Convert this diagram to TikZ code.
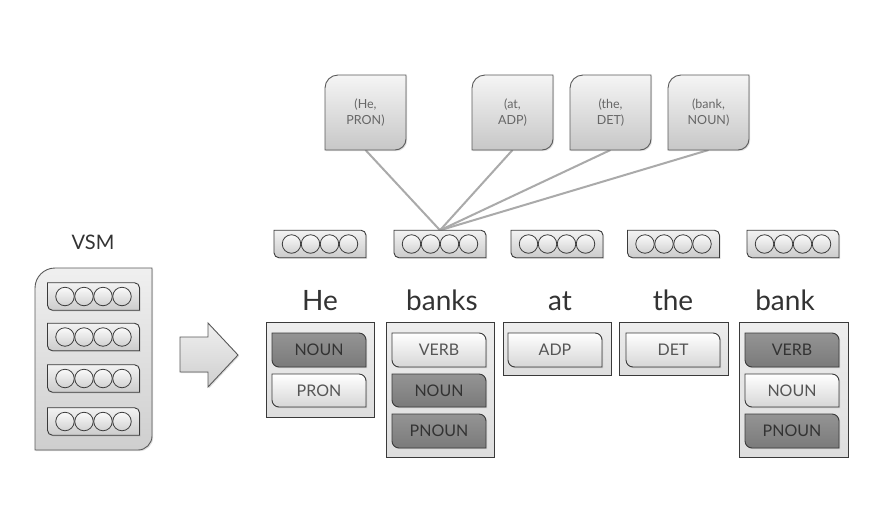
\documentclass[tikz,border=0pt]{standalone}
\usepackage{fontspec}
\setmainfont{Lato}
\usetikzlibrary{shadows}
\pgfdeclarelayer{bg}\pgfdeclarelayer{lines}\pgfdeclarelayer{back}\pgfdeclarelayer{mid}
\pgfsetlayers{bg,lines,back,mid,main}
\definecolor{edge}{HTML}{3A3A3A}
\definecolor{txt}{HTML}{333333}
\definecolor{tagtxt}{HTML}{555555}
\definecolor{darktxt}{HTML}{333333}
\definecolor{tuptxt}{HTML}{666666}
\definecolor{conn}{HTML}{AAAAAA}
\tikzset{
  base/.style={inner sep=0pt, outer sep=0pt, rectangle},
  shad/.style={drop shadow={shadow xshift=1.2pt, shadow yshift=-1.2pt, opacity=.25}},
  lightfill/.style={draw=edge, line width=0.9pt, top color=white, bottom color=black!16, shad},
  darkfill/.style={draw=edge, line width=0.9pt, top color=black!42, bottom color=black!52, shad},
  vecfill/.style={draw=edge, line width=0.9pt, top color=black!5, bottom color=black!20, shad},
  tupfill/.style={draw=black!65, line width=0.9pt, top color=black!4, bottom color=black!22, shad},
  vsmfill/.style={draw=black!65, line width=0.9pt, top color=black!6, bottom color=black!19, shad},
  contfill/.style={base, draw=edge, line width=1pt, top color=black!7, bottom color=black!13, shad},
  dot/.style={circle, inner sep=0pt, minimum size=18.5pt, draw=edge, line width=0.8pt, top color=black!2, bottom color=black!18},
  lighttext/.style={text=tagtxt, font=\fontsize{16}{18}\selectfont},
  darktext/.style={text=darktxt, font=\fontsize{16}{18}\selectfont},
  tuptext/.style={text=tuptxt, align=center, font=\fontsize{12.5}{16.5}\selectfont},
  word/.style={text=txt, font=\fontsize{28}{30}\selectfont, anchor=base, inner sep=0pt},
  connline/.style={draw=conn, line width=2pt},
}
% #1 options, #2 name, #3 x1, #4 y1, #5 x2, #6 y2, #7 text
\newcommand\placebox[7]{\node[base,#1,minimum width={(#5-#3)*1pt},minimum height={(#6-#4)*1pt}] (#2) at ({(#3+#5)/2},{(#4+#6)/2}) {#7};}
% #1 layer, #2 name, #3 corner radius (number, pt), #4 style
\newcommand\cutshape[4]{\begin{pgfonlayer}{#1}
\draw[#4] ([yshift=#3pt]#2.south west) -- (#2.north west) -- ([xshift=-#3pt]#2.north east)
 .. controls ([xshift={-0.448*#3pt}]#2.north east) and ([yshift={-0.448*#3pt}]#2.north east) .. ([yshift=-#3pt]#2.north east)
 -- (#2.south east) -- ([xshift=#3pt]#2.south west)
 .. controls ([xshift={0.448*#3pt}]#2.south west) and ([yshift={0.448*#3pt}]#2.south west) .. ([yshift=#3pt]#2.south west) -- cycle;
\end{pgfonlayer}}
\newcommand\roundshape[5]{\begin{pgfonlayer}{#1}
\draw[#5] ([yshift=-#3pt]#2.north west)
 .. controls ([yshift={-0.448*#3pt}]#2.north west) and ([xshift={0.448*#3pt}]#2.north west) .. ([xshift=#3pt]#2.north west)
 -- (#2.north east) -- ([yshift=#4pt]#2.south east)
 .. controls ([yshift={0.448*#4pt}]#2.south east) and ([xshift={-0.448*#4pt}]#2.south east) .. ([xshift=-#4pt]#2.south east)
 -- (#2.south west) -- cycle;
\end{pgfonlayer}}
% vector: #1 name, #2 cx, #3 cy
\newcommand\vecbox[3]{\node[base, minimum width=92pt, minimum height=27.5pt] (#1) at (#2,#3) {};
\cutshape{mid}{#1}{5}{vecfill}
\foreach \i/\dx in {1/-28.5,2/-9.5,3/9.5,4/28.5} \node[dot] (#1-\i) at ([xshift=\dx pt]#1.center) {};}
% tag: #1 name, #2 x1, #3 y1, #4 x2, #5 y2, #6 light/dark, #7 text
\newcommand\tagbox[7]{\placebox{#6text}{#1}{#2}{#3}{#4}{#5}{#7}\cutshape{mid}{#1}{7}{#6fill}}
\begin{document}
\begin{tikzpicture}[x=1pt, y=-1pt]
\begin{pgfonlayer}{bg}
\fill[white] (0,0) rectangle (880,512);
\end{pgfonlayer}
\useasboundingbox (0,0) rectangle (880,512);

% VSM
\node[text=txt, font=\fontsize{20}{22}\selectfont] (vsm) at (93,242) {VSM};
\placebox{}{vsmbox}{35}{268}{152}{450}{}
\roundshape{back}{vsmbox}{20}{14}{vsmfill}
\vecbox{vsm1}{93.5}{296.5}
\vecbox{vsm2}{93.5}{337}
\vecbox{vsm3}{93.5}{378.5}
\vecbox{vsm4}{93.5}{421.5}

% arrow
\begin{pgfonlayer}{back}
\draw[vsmfill] (180,337) -- (208,337) -- (208,323) -- (238,355) -- (208,387) -- (208,372) -- (180,372) -- cycle;
\end{pgfonlayer}

% word vectors
\vecbox{vHe}{320}{244}
\vecbox{vBanks}{440}{244}
\vecbox{vAt}{557}{244}
\vecbox{vThe}{673.5}{244}
\vecbox{vBank}{793}{244}

% words
\node[word] (wHe) at (320,310) {He};
\node[word] (wBanks) at (442,310) {banks};
\node[word] (wAt) at (560,310) {at};
\node[word] (wThe) at (673,310) {the};
\node[word] (wBank) at (785,310) {bank};

% containers
\begin{pgfonlayer}{back}
\placebox{contfill}{cHe}{266}{322}{374}{417}{}
\placebox{contfill}{cBanks}{386}{322}{494}{457}{}
\placebox{contfill}{cAt}{503}{322}{611}{375}{}
\placebox{contfill}{cThe}{619}{322}{728}{375}{}
\placebox{contfill}{cBank}{739}{322}{848}{457}{}
\end{pgfonlayer}

% tags
\tagbox{heNoun}{272}{333}{366}{367}{dark}{NOUN}
\tagbox{hePron}{272}{374}{366}{407}{light}{PRON}
\tagbox{bsVerb}{392}{333}{486}{367}{light}{VERB}
\tagbox{bsNoun}{392}{374}{486}{407}{dark}{NOUN}
\tagbox{bsPnoun}{392}{414}{486}{448}{dark}{PNOUN}
\tagbox{atAdp}{508}{333}{602}{367}{light}{ADP}
\tagbox{theDet}{626}{333}{720}{367}{light}{DET}
\tagbox{bkVerb}{745}{333}{839}{367}{dark}{VERB}
\tagbox{bkNoun}{745}{374}{839}{407}{light}{NOUN}
\tagbox{bkPnoun}{745}{414}{839}{448}{dark}{PNOUN}

% tuples
\placebox{tuptext}{tHe}{325}{75}{406}{150}{(He,\\PRON)}
\roundshape{back}{tHe}{13}{11}{tupfill}
\placebox{tuptext}{tAt}{472}{75}{553}{150}{(at,\\ADP)}
\roundshape{back}{tAt}{13}{11}{tupfill}
\placebox{tuptext}{tThe}{570}{75}{651}{150}{(the,\\DET)}
\roundshape{back}{tThe}{13}{11}{tupfill}
\placebox{tuptext}{tBank}{668}{75}{749}{150}{(bank,\\NOUN)}
\roundshape{back}{tBank}{13}{11}{tupfill}

% connectors
\begin{pgfonlayer}{lines}
\draw[connline] (vBanks.north) -- (tHe.south);
\draw[connline] (vBanks.north) -- (tAt.south);
\draw[connline] (vBanks.north) -- (tThe.south);
\draw[connline] (vBanks.north) -- (tBank.south);
\end{pgfonlayer}
\end{tikzpicture}
\end{document}
